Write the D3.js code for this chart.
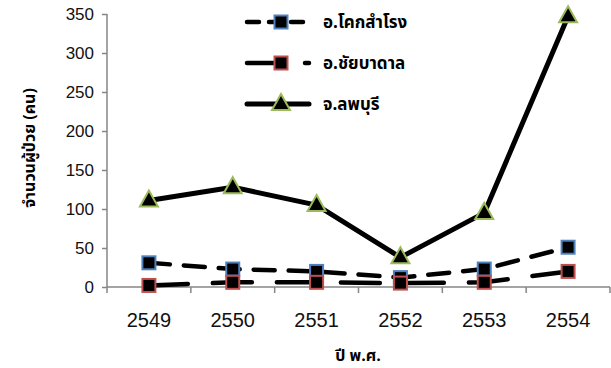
<!DOCTYPE html>
<html><head><meta charset="utf-8">
<script src="https://cdn.jsdelivr.net/npm/d3@7"></script>
<style>body{margin:0;background:#fff}</style>
</head><body>
<svg id="c" width="611" height="368"></svg>
<script>
const years = ["2549","2550","2551","2552","2553","2554"];
const khokSamrong = [31, 23, 20, 12, 23, 51];
const chaiBadan = [2, 6, 6, 5, 6, 20];
const lopburi = [111, 128, 105, 38, 95, 347];
const yTicks = [0,50,100,150,200,250,300,350];
const seriesNames = ["อ.โคกสำโรง","อ.ชัยบาดาล","จ.ลพบุรี"];

const svg = d3.select("#c");
const x = d3.scaleBand().domain(years).range([107, 610]);
const y = d3.scaleLinear().domain([0,350]).range([287, 14]);
const axisColor = "#868686";
const thai = "'Noto Sans Thai','Noto Sans','DejaVu Sans',sans-serif";

// y axis
const ya = svg.append("g").attr("transform","translate(107,0)")
  .call(d3.axisLeft(y).tickValues(yTicks).tickSize(5).tickPadding(8));
ya.selectAll("path,line").attr("stroke",axisColor).attr("stroke-width",1.5);
ya.select(".domain").attr("d","M0,14V287");
ya.selectAll("text").attr("font-family","'Liberation Sans',Arial,sans-serif").attr("font-size",17).attr("fill","#111");

// x axis
const xa = svg.append("g").attr("transform","translate(0,287)")
  .call(d3.axisBottom(x).tickSize(0).tickPadding(26));
xa.select(".domain").attr("stroke",axisColor).attr("stroke-width",1.5).attr("d","M107,0H610");
xa.selectAll("text").attr("font-family","'Liberation Sans',Arial,sans-serif").attr("font-size",20).attr("fill","#111");
const bounds = years.map(d=>x(d)).concat([x(years[years.length-1])+x.bandwidth()]);
svg.append("g").selectAll("line").data(bounds).join("line")
  .attr("x1",d=>d).attr("x2",d=>d).attr("y1",287).attr("y2",293)
  .attr("stroke",axisColor).attr("stroke-width",1.5);

// titles
svg.append("text").attr("x",358).attr("y",361).attr("text-anchor","middle")
  .attr("font-family",thai).attr("font-weight","bold").attr("font-size",16).text("ปี พ.ศ.");
svg.append("text").attr("transform","translate(35,148) rotate(-90)").attr("text-anchor","middle")
  .attr("font-family",thai).attr("font-weight","bold").attr("font-size",16).text("จำนวนผู้ป่วย (คน)");

const cx = d => x(d) + x.bandwidth()/2;
const line = d3.line().x((d,i)=>cx(years[i])).y(d=>y(d));

const series = [
  {name: seriesNames[0], vals: khokSamrong, dash: "21,14", legDash: "12,10", marker:"square", mstroke:"#4F81BD", w:4.5},
  {name: seriesNames[1], vals: chaiBadan, dash: "39,25", legDash: "32,26", marker:"square", mstroke:"#C0504D", w:4.5},
  {name: seriesNames[2], vals: lopburi, dash: null, legDash: null, marker:"triangle", mstroke:"#9BBB59", w:5}
];

function drawMarker(g, type, stroke, px, py){
  if(type==="square"){
    g.append("rect").attr("x",px-6.5).attr("y",py-6.5).attr("width",13).attr("height",13)
      .attr("fill","#000").attr("stroke",stroke).attr("stroke-width",2);
  } else {
    g.append("path").attr("d",`M${px},${py-10}L${px+9},${py+6}L${px-9},${py+6}Z`)
      .attr("fill","#000").attr("stroke",stroke).attr("stroke-width",2).attr("stroke-linejoin","miter");
  }
}

series.forEach(s=>{
  svg.append("path").datum(s.vals).attr("d",line).attr("fill","none")
    .attr("stroke","#000").attr("stroke-width",s.w).attr("stroke-linecap","round")
    .attr("stroke-linejoin","round").attr("stroke-dasharray",s.dash);
});
series.forEach(s=>{
  const g = svg.append("g");
  s.vals.forEach((v,i)=>drawMarker(g, s.marker, s.mstroke, cx(years[i]), y(v)));
});

// legend
const legY = [22, 63, 104];
series.forEach((s,i)=>{
  const g = svg.append("g");
  g.append("line").attr("x1",247).attr("x2",309).attr("y1",legY[i]).attr("y2",legY[i])
    .attr("stroke","#000").attr("stroke-width",s.w).attr("stroke-linecap","round")
    .attr("stroke-dasharray", s.legDash);
  drawMarker(g, s.marker, s.mstroke, 281, legY[i]);
  g.append("text").attr("x",323).attr("y",legY[i]+6).attr("font-family",thai)
    .attr("font-weight","bold").attr("font-size",17).text(s.name);
});
</script>
</body></html>
